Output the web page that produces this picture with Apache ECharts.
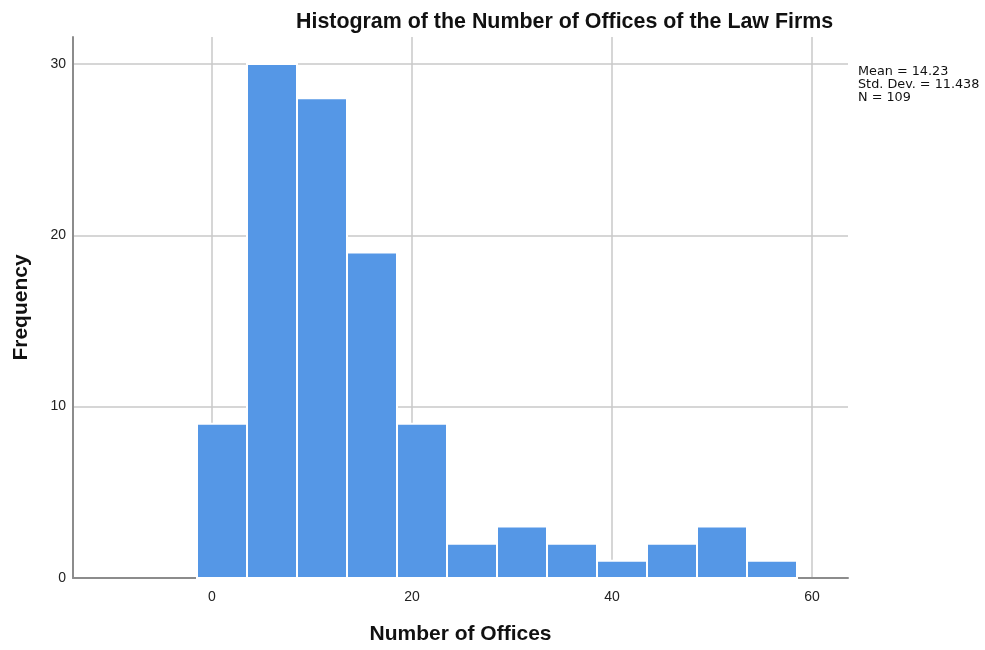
<!DOCTYPE html>
<html>
<head>
<meta charset="utf-8">
<script src="https://cdn.jsdelivr.net/npm/echarts@6/dist/echarts.min.js"></script>
<style>html,body{margin:0;padding:0;background:#fff;}#c{width:985px;height:650px;}</style>
</head>
<body>
<div id="c"></div>
<script>
const binLow  = [-1.5, 3.5, 8.5, 13.5, 18.5, 23.5, 28.5, 33.5, 38.5, 43.5, 48.5, 53.5];
const binHigh = [3.5, 8.5, 13.5, 18.5, 23.5, 28.5, 33.5, 38.5, 43.5, 48.5, 53.5, 58.5];
const counts  = [9, 30, 28, 19, 9, 2, 3, 2, 1, 2, 3, 1];
const xTicks  = [0, 20, 40, 60];
const yTicks  = [0, 10, 20, 30];
const statsLines = ['Mean = 14.23', 'Std. Dev. = 11.438', 'N = 109'];

const chart = echarts.init(document.getElementById('c'));
const data = counts.map((c, i) => [binLow[i], binHigh[i], c]);
const font = 'Liberation Sans, Arial, sans-serif';

chart.setOption({
  animation: false,
  backgroundColor: '#fff',
  title: {
    text: 'Histogram of the Number of Offices of the Law Firms',
    left: 291, top: 7,
    textStyle: { fontFamily: font, fontSize: 21.4, fontWeight: 'bold', color: '#111' }
  },
  grid: { left: 73, right: 137, top: 37, bottom: 70 },
  xAxis: {
    type: 'value', min: -13.9, max: 63.6,
    name: 'Number of Offices', nameLocation: 'middle', nameGap: 46,
    nameTextStyle: { fontFamily: font, fontSize: 21, fontWeight: 'bold', color: '#111' },
    axisLine: { show: true, onZero: false, lineStyle: { color: '#8c8c8c', width: 2 } },
    axisTick: { show: false, customValues: xTicks },
    axisLabel: { customValues: xTicks, fontFamily: font, fontSize: 14, color: '#222', margin: 12 },
    splitLine: { show: true, lineStyle: { color: '#c8c8c8', width: 1.5 } }
  },
  yAxis: {
    type: 'value', min: 0, max: 31.57,
    name: 'Frequency', nameLocation: 'middle', nameGap: 41,
    nameTextStyle: { fontFamily: font, fontSize: 21, fontWeight: 'bold', color: '#111' },
    axisLine: { show: true, onZero: false, lineStyle: { color: '#8c8c8c', width: 2 } },
    axisTick: { show: false, customValues: yTicks },
    axisLabel: { customValues: yTicks, fontFamily: font, fontSize: 14, color: '#222', margin: 7, padding: [3, 0, 0, 0] },
    splitLine: { show: true, lineStyle: { color: '#c8c8c8', width: 1.5 } }
  },
  graphic: statsLines.map((t, i) => ({
    type: 'text', left: 858, top: 65 + i * 13,
    style: { text: t, fontFamily: 'DejaVu Sans, sans-serif', fontSize: 12.8, fill: '#111' }
  })),
  series: [{
    type: 'custom',
    data: data,
    encode: { x: [0, 1], y: 2 },
    renderItem: function (params, api) {
      const p0 = api.coord([api.value(0), 0]);
      const p1 = api.coord([api.value(1), api.value(2)]);
      return {
        type: 'rect',
        shape: { x: p0[0], y: p1[1], width: p1[0] - p0[0], height: p0[1] - p1[1] },
        style: { fill: '#5597E6', stroke: '#ffffff', lineWidth: 2 }
      };
    }
  }]
});
</script>
</body>
</html>
